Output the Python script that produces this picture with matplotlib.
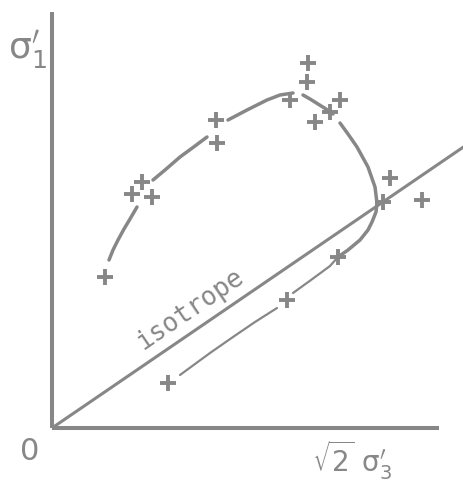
import matplotlib
matplotlib.use("Agg")
import matplotlib.pyplot as plt

INK = "#878787"

# measured states (x = sqrt(2)*sigma3', y = sigma1', arbitrary units)
pts_x = [53, 90, 80, 100, 164, 165, 238, 256, 255, 288, 278, 263,
         338, 331, 370, 286, 235, 116]
pts_y = [151, 246, 234, 231, 308, 285, 328, 365, 346, 328, 316, 306,
         250, 226, 228, 171, 128, 45]

# hand-drawn stress path, split into the pieces between the markers
path_upper = [
    ([57, 61, 66, 72, 78, 85], [168, 178, 188, 199, 209, 221]),
    ([101, 113, 128, 143, 155], [248, 258, 271, 282, 291]),
    ([176, 195, 215, 228, 241], [308, 318, 328, 333, 335]),
    ([251, 258, 266, 274, 281], [333, 329, 324, 319, 314]),
    ([288, 296, 305, 316, 323, 325, 324, 320, 316, 308, 296, 286],
     [305, 294, 281, 261, 241, 225, 216, 206, 198, 188, 178, 171]),
]
path_lower = [
    ([286, 278, 259, 241], [171, 162, 148, 135]),
    ([225, 203, 181, 158, 128], [120, 106, 91, 75, 53]),
]

iso_slope = 0.683
iso_end_x = 412
x_axis_end = 387
y_axis_end = 416

fig = plt.figure(figsize=(4.64, 4.82), dpi=100)
ax = fig.add_axes([0, 0, 1, 1])
ax.set_xlim(-52, 412)
ax.set_ylim(-54, 428)
ax.set_aspect("equal")
ax.axis("off")

# axes
ax.plot([0, 0], [0, y_axis_end], color=INK, lw=2.9, solid_capstyle="butt")
ax.plot([0, x_axis_end], [0, 0], color=INK, lw=2.9, solid_capstyle="butt")

# isotropic line
ax.plot([0, iso_end_x], [0, iso_slope * iso_end_x], color=INK, lw=2.2,
        solid_capstyle="butt")

for xs, ys in path_upper:
    ax.plot(xs, ys, color=INK, lw=2.5, solid_capstyle="round",
            solid_joinstyle="round")
for xs, ys in path_lower:
    ax.plot(xs, ys, color=INK, lw=1.6, solid_capstyle="round",
            solid_joinstyle="round")

ax.plot(pts_x, pts_y, ls="none", marker="+", ms=11, mew=2.8, color=INK)

ax.text(143, 113, "isotrope", rotation=34.3, rotation_mode="anchor",
        ha="center", va="baseline", color=INK, fontsize=18.5,
        family="DejaVu Sans Mono")

fig.text(8 / 464, 1 - 50 / 482, r"$\mathrm{\sigma}_1^{\prime}$", ha="left",
         va="center", color=INK, fontsize=26)
fig.text(30 / 464, 1 - 451 / 482, "0", ha="center", va="center",
         color=INK, fontsize=22)
fig.text(352 / 464, 1 - 460 / 482, r"$\sqrt{2}\ \mathrm{\sigma}_3^{\prime}$",
         ha="center", va="center", color=INK, fontsize=20)

fig.savefig("out.png", dpi=100)
